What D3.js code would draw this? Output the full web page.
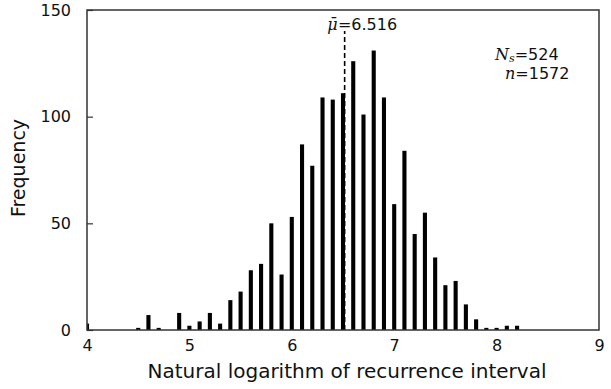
<!DOCTYPE html>
<html>
<head>
<meta charset="utf-8">
<script src="https://cdn.jsdelivr.net/npm/d3@7"></script>
<style>
  body { margin: 0; background: #fff; }
  text { font-family: "DejaVu Sans", Verdana, sans-serif; fill: #111; }
</style>
</head>
<body>
<div id="chart"></div>
<script>
// bin centres (ln of recurrence interval) and counts
const binCentres = [4.0, 4.5, 4.6, 4.7, 4.8, 4.9, 5.0, 5.1, 5.2, 5.3, 5.4, 5.5, 5.6, 5.7, 5.8, 5.9,
    6.0, 6.1, 6.2, 6.3, 6.4, 6.5, 6.6, 6.7, 6.8, 6.9, 7.0, 7.1, 7.2, 7.3, 7.4, 7.5, 7.6, 7.7,
    7.8, 7.9, 8.0, 8.1, 8.2];
const counts = [3, 1, 7, 1, 0, 8, 2, 4, 8, 3, 14, 18, 28, 31, 50, 26,
    53, 87, 77, 109, 108, 111, 126, 101, 131, 109, 59, 84, 45, 55, 34, 21, 23, 12,
    5, 1, 1, 2, 2];
const xTicks = [4, 5, 6, 7, 8, 9];
const yTicks = [0, 50, 100, 150];
const meanValue = 6.516;
const nStations = 524;
const nEvents = 1572;

const bins = binCentres.map((c, i) => ({ x: c, count: counts[i] }));

const width = 611, height = 389;
const margin = { top: 10, right: 12, bottom: 59, left: 87 };
const innerW = width - margin.left - margin.right;
const innerH = height - margin.top - margin.bottom;

const svg = d3.select("#chart").append("svg")
    .attr("width", width)
    .attr("height", height);

const g = svg.append("g")
    .attr("transform", "translate(" + margin.left + "," + margin.top + ")");

const x = d3.scaleLinear().domain([4, 9]).range([0, innerW]);
const y = d3.scaleLinear().domain([0, 150]).range([innerH, 0]);

g.append("clipPath").attr("id", "plotClip")
    .append("rect").attr("width", innerW).attr("height", innerH);

// bars
const barW = x(4.04) - x(4);
g.append("g").attr("clip-path", "url(#plotClip)")
    .selectAll("rect")
    .data(bins)
    .join("rect")
    .attr("x", d => x(d.x) - barW / 2)
    .attr("y", d => y(d.count))
    .attr("width", barW)
    .attr("height", d => innerH - y(d.count))
    .attr("fill", "#000");

// mean line
g.append("line")
    .attr("x1", x(meanValue)).attr("x2", x(meanValue))
    .attr("y1", y(0)).attr("y2", 21)
    .attr("stroke", "#000")
    .attr("stroke-width", 1.6)
    .attr("stroke-dasharray", "5,3");

// y axis (ticks inside)
const yAxis = g.append("g")
    .call(d3.axisLeft(y).tickValues(yTicks).tickSize(-6).tickPadding(16));
yAxis.select(".domain").remove();
yAxis.selectAll("line").attr("stroke", "#333").attr("stroke-width", 1.2);
yAxis.selectAll("text").style("font-size", "16px");

// x axis
const xAxis = g.append("g")
    .attr("transform", "translate(0," + innerH + ")")
    .call(d3.axisBottom(x).tickValues(xTicks).tickSize(0).tickPadding(10).tickFormat(d3.format("d")));
xAxis.select(".domain").remove();
xAxis.selectAll("text").style("font-size", "16px");

// frame
g.append("rect")
    .attr("width", innerW).attr("height", innerH)
    .attr("fill", "none")
    .attr("stroke", "#333")
    .attr("stroke-width", 1.5);

// mean label, "=" centred on the dashed line
g.append("text")
    .attr("x", x(meanValue) - 7)
    .attr("y", 20)
    .attr("text-anchor", "end")
    .style("font-size", "16px")
    .style("font-family", "'DejaVu Serif', serif")
    .style("font-style", "italic")
    .text("\u03BC\u0304");
g.append("text")
    .attr("x", x(meanValue) - 6.7)
    .attr("y", 20)
    .style("font-size", "16px")
    .text("=" + meanValue.toFixed(3));

// N_s and n
const ns = g.append("text")
    .attr("x", 408).attr("y", 50)
    .style("font-size", "16px");
ns.append("tspan")
    .style("font-family", "'DejaVu Serif', serif")
    .style("font-style", "italic")
    .text("N");
ns.append("tspan")
    .attr("dy", 2)
    .style("font-family", "'DejaVu Serif', serif")
    .style("font-style", "italic")
    .style("font-size", "11px")
    .text("s");
ns.append("tspan")
    .attr("dy", -2)
    .text("=" + nStations);

const nn = g.append("text")
    .attr("x", 418).attr("y", 69)
    .style("font-size", "16px");
nn.append("tspan")
    .style("font-family", "'DejaVu Serif', serif")
    .style("font-style", "italic")
    .text("n");
nn.append("tspan").text("=" + nEvents);

// axis titles
svg.append("text")
    .attr("x", 347)
    .attr("y", 378)
    .attr("text-anchor", "middle")
    .style("font-size", "20px")
    .text("Natural logarithm of recurrence interval");

svg.append("text")
    .attr("transform", "translate(25,168) rotate(-90)")
    .attr("text-anchor", "middle")
    .style("font-size", "19px")
    .text("Frequency");
</script>
</body>
</html>
